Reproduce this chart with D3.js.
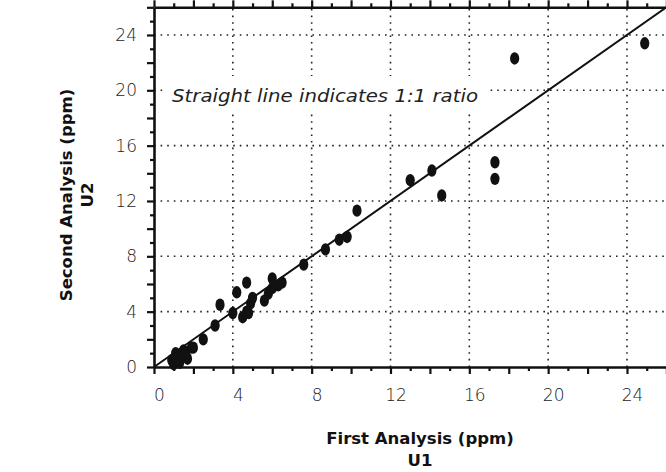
<!DOCTYPE html>
<html>
<head>
<meta charset="utf-8">
<script src="https://cdn.jsdelivr.net/npm/d3@7"></script>
<style>
	body { margin: 0; background: #fff; }
	svg { display: block; }
	.tick text { font-family: "DejaVu Sans", sans-serif; font-weight: 300; font-size: 17px; fill: #222; }
	.title { font-family: "DejaVu Sans", sans-serif; font-weight: bold; font-size: 16.5px; fill: #111; }
</style>
</head>
<body>
<script>
/* Data: first vs second analysis of U (ppm) */
const u1 = [0.9, 1.0, 1.1, 1.2, 1.3, 1.5, 1.6, 1.7, 1.9, 2.0, 2.5, 3.1, 3.35, 4.0, 4.2, 4.5, 4.7, 4.8, 4.9, 5.0, 4.7, 5.6, 5.8, 6.0, 6.3, 6.0, 6.5, 7.6, 8.7, 9.4, 9.8, 10.3, 13.0, 14.1, 14.6, 17.3, 17.3, 18.3, 24.9];
const u2 = [0.5, 0.2, 1.0, 0.6, 0.3, 1.2, 0.9, 0.6, 1.4, 1.4, 2.0, 3.0, 4.5, 3.9, 5.4, 3.6, 4.0, 3.9, 4.6, 5.0, 6.1, 4.8, 5.3, 6.4, 5.9, 5.7, 6.1, 7.4, 8.5, 9.2, 9.4, 11.3, 13.5, 14.2, 12.4, 14.8, 13.6, 22.3, 23.4];
const majorTicks = [0, 4, 8, 12, 16, 20, 24];
const axisMax = 26;
const note = "Straight line indicates 1:1 ratio";
const xTitle = ["First Analysis (ppm)", "U1"];
const yTitle = ["Second Analysis (ppm)", "U2"];

const width = 666;
const height = 472;

const svg = d3.select("body").append("svg")
	.attr("width", width)
	.attr("height", height);

/* Scales */
const xScale = d3.scaleLinear().domain([0, axisMax]).range([154, 666.4]);
const yScale = d3.scaleLinear().domain([0, axisMax]).range([367, 7.3]);

const minorTicks = d3.range(0, axisMax + 1);
const tickLen = (d) => (d % 2 === 0 ? 7 : 4);

/* Dotted grid */
const grid = svg.append("g")
	.attr("stroke", "#222")
	.attr("stroke-width", 1.6)
	.attr("stroke-dasharray", "1.6,5");

grid.selectAll(".vgrid")
	.data(majorTicks.slice(1))
	.enter()
	.append("line")
	.attr("x1", (d) => xScale(d))
	.attr("x2", (d) => xScale(d))
	.attr("y1", yScale(0))
	.attr("y2", yScale(axisMax));

grid.selectAll(".hgrid")
	.data(majorTicks.slice(1))
	.enter()
	.append("line")
	.attr("x1", xScale(0))
	.attr("x2", xScale(axisMax))
	.attr("y1", (d) => yScale(d))
	.attr("y2", (d) => yScale(d));

/* Note text with white box over the grid */
const noteG = svg.append("g");
noteG.append("rect")
	.attr("x", 164)
	.attr("y", 76)
	.attr("width", 326)
	.attr("height", 36)
	.attr("fill", "#fff");
noteG.append("text")
	.attr("x", 172)
	.attr("y", 102)
	.attr("font-family", "'DejaVu Sans', sans-serif")
	.attr("font-style", "italic")
	.attr("font-weight", 300)
	.attr("font-size", 18.5)
	.attr("fill", "#222")
	.attr("textLength", 306)
	.attr("lengthAdjust", "spacingAndGlyphs")
	.text(note);

/* 1:1 line */
svg.append("line")
	.attr("x1", xScale(0))
	.attr("y1", yScale(0))
	.attr("x2", xScale(axisMax))
	.attr("y2", yScale(axisMax))
	.attr("stroke", "#111")
	.attr("stroke-width", 2);

/* Points */
svg.append("g")
	.selectAll("ellipse")
	.data(u1.map((d, i) => ({ x: d, y: u2[i] })))
	.enter()
	.append("ellipse")
	.attr("cx", (d) => xScale(d.x))
	.attr("cy", (d) => yScale(d.y))
	.attr("rx", 4.6)
	.attr("ry", 6.2)
	.attr("fill", "#111");

/* Axes */
const styleAxis = (g) => {
	g.select(".domain").attr("stroke", "#111").attr("stroke-width", 2.6);
	g.selectAll(".tick line").attr("stroke", "#111").attr("stroke-width", 2.2);
};

const xAxis = svg.append("g")
	.attr("transform", `translate(0,${yScale(0)})`)
	.call(d3.axisBottom(xScale).tickValues(minorTicks).tickFormat("").tickSizeOuter(0))
	.call(styleAxis);
xAxis.selectAll(".tick line").attr("y2", tickLen);

const topAxis = svg.append("g")
	.attr("transform", `translate(0,${yScale(axisMax)})`)
	.call(d3.axisTop(xScale).tickValues(minorTicks).tickFormat("").tickSizeOuter(0))
	.call(styleAxis);
topAxis.selectAll(".tick line").attr("y2", (d) => -tickLen(d));

const yAxis = svg.append("g")
	.attr("transform", `translate(${xScale(0)},0)`)
	.call(d3.axisLeft(yScale).tickValues(minorTicks).tickFormat("").tickSizeOuter(0))
	.call(styleAxis);
yAxis.selectAll(".tick line").attr("x2", (d) => -tickLen(d));

/* Tick labels */
svg.append("g")
	.attr("transform", `translate(5,${yScale(0)})`)
	.call(d3.axisBottom(xScale).tickValues(majorTicks).tickSize(0).tickPadding(22))
	.call((g) => g.select(".domain").remove());

svg.append("g")
	.attr("transform", `translate(${xScale(0)},0)`)
	.call(d3.axisLeft(yScale).tickValues(majorTicks).tickSize(0).tickPadding(17))
	.call((g) => g.select(".domain").remove());

/* Axis titles */
svg.selectAll(".xtitle")
	.data(xTitle)
	.enter()
	.append("text")
	.attr("class", "title")
	.attr("text-anchor", "middle")
	.attr("x", 420)
	.attr("y", (d, i) => 444 + i * 22)
	.text((d) => d);

svg.selectAll(".ytitle")
	.data(yTitle)
	.enter()
	.append("text")
	.attr("class", "title")
	.attr("text-anchor", "middle")
	.attr("transform", (d, i) => `translate(${72 + i * 21},195) rotate(-90)`)
	.text((d) => d);
</script>
</body>
</html>
